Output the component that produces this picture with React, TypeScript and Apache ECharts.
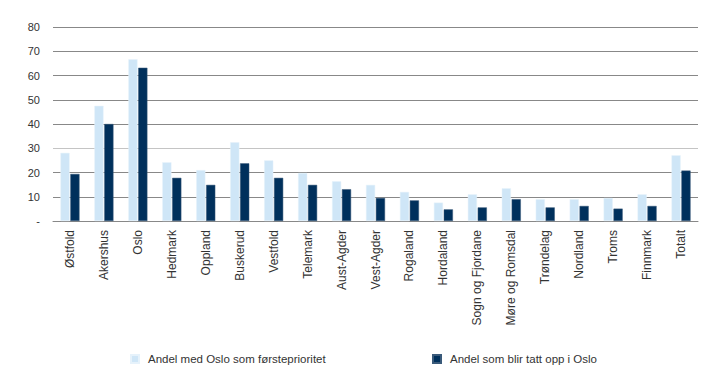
import React, { useEffect, useRef } from "react";
import * as echarts from "echarts";

const categories = [
  "Østfold", "Akershus", "Oslo", "Hedmark", "Oppland", "Buskerud", "Vestfold",
  "Telemark", "Aust-Agder", "Vest-Agder", "Rogaland", "Hordaland",
  "Sogn og Fjordane", "Møre og Romsdal", "Trøndelag", "Nordland", "Troms",
  "Finnmark", "Totalt",
];
const forstePrioritet = [28.1, 47.5, 66.7, 24.2, 21, 32.5, 25, 19.8, 16.4, 14.9, 12, 7.6, 11, 13.5, 9, 9, 9.5, 11, 27.1];
const tattOpp = [19.4, 40, 63.2, 17.8, 14.9, 23.8, 17.8, 14.9, 13.1, 9.5, 8.5, 4.8, 5.6, 9, 5.6, 6.2, 5.1, 6.2, 20.8];
const seriesNames = ["Andel med Oslo som førsteprioritet", "Andel som blir tatt opp i Oslo"];

export default function App() {
  const ref = useRef<HTMLDivElement>(null);
  useEffect(() => {
    if (!ref.current) return;
    const chart = echarts.init(ref.current, undefined, { renderer: "svg" });
    const font = "'Liberation Sans', Arial, sans-serif";
    const legendText = { fontSize: 11.5, color: "#333", fontFamily: font, padding: [0, 0, 0, 4] };
    chart.setOption({
      animation: false,
      textStyle: { fontFamily: font },
      grid: { left: 45, right: 13, top: 19, bottom: 154, containLabel: false },
      legend: [
        {
          data: [seriesNames[0]], left: 117, top: 340, itemWidth: 8, itemHeight: 8,
          icon: "rect", textStyle: legendText,
        },
        {
          data: [seriesNames[1]], left: 419, top: 340, itemWidth: 8, itemHeight: 8,
          icon: "rect", textStyle: legendText,
        },
      ],
      xAxis: {
        type: "category",
        data: categories,
        axisLine: { lineStyle: { color: "#888", width: 1 } },
        axisTick: { show: false },
        axisLabel: { rotate: 90, fontSize: 12, color: "#333", margin: 9, fontFamily: font },
      },
      yAxis: {
        type: "value",
        min: 0, max: 80, interval: 10,
        axisLine: { show: false },
        axisTick: { show: false },
        axisLabel: {
          fontSize: 11, color: "#333", margin: 13, fontFamily: font,
          formatter: (v: number) => (v === 0 ? "-" : String(v)),
        },
        splitLine: {
          lineStyle: {
            color: ["#888", "#888", "#888", "#c4c4c4", "#888", "#888", "#888", "#888", "#888"],
            width: 1,
          },
        },
      },
      series: [
        {
          name: seriesNames[0], type: "bar", data: forstePrioritet,
          barWidth: "27%", barGap: "8%",
          itemStyle: { color: "#cfe6f7", borderColor: "#e6f2fb", borderWidth: 0.5 },
        },
        {
          name: seriesNames[1], type: "bar", data: tattOpp,
          barWidth: "27%",
          itemStyle: { color: "#00305c", borderColor: "#3a5a7a", borderWidth: 0.5 },
        },
      ],
    });
    return () => chart.dispose();
  }, []);
  return <div ref={ref} style={{ width: 703, height: 367 }} />;
}
